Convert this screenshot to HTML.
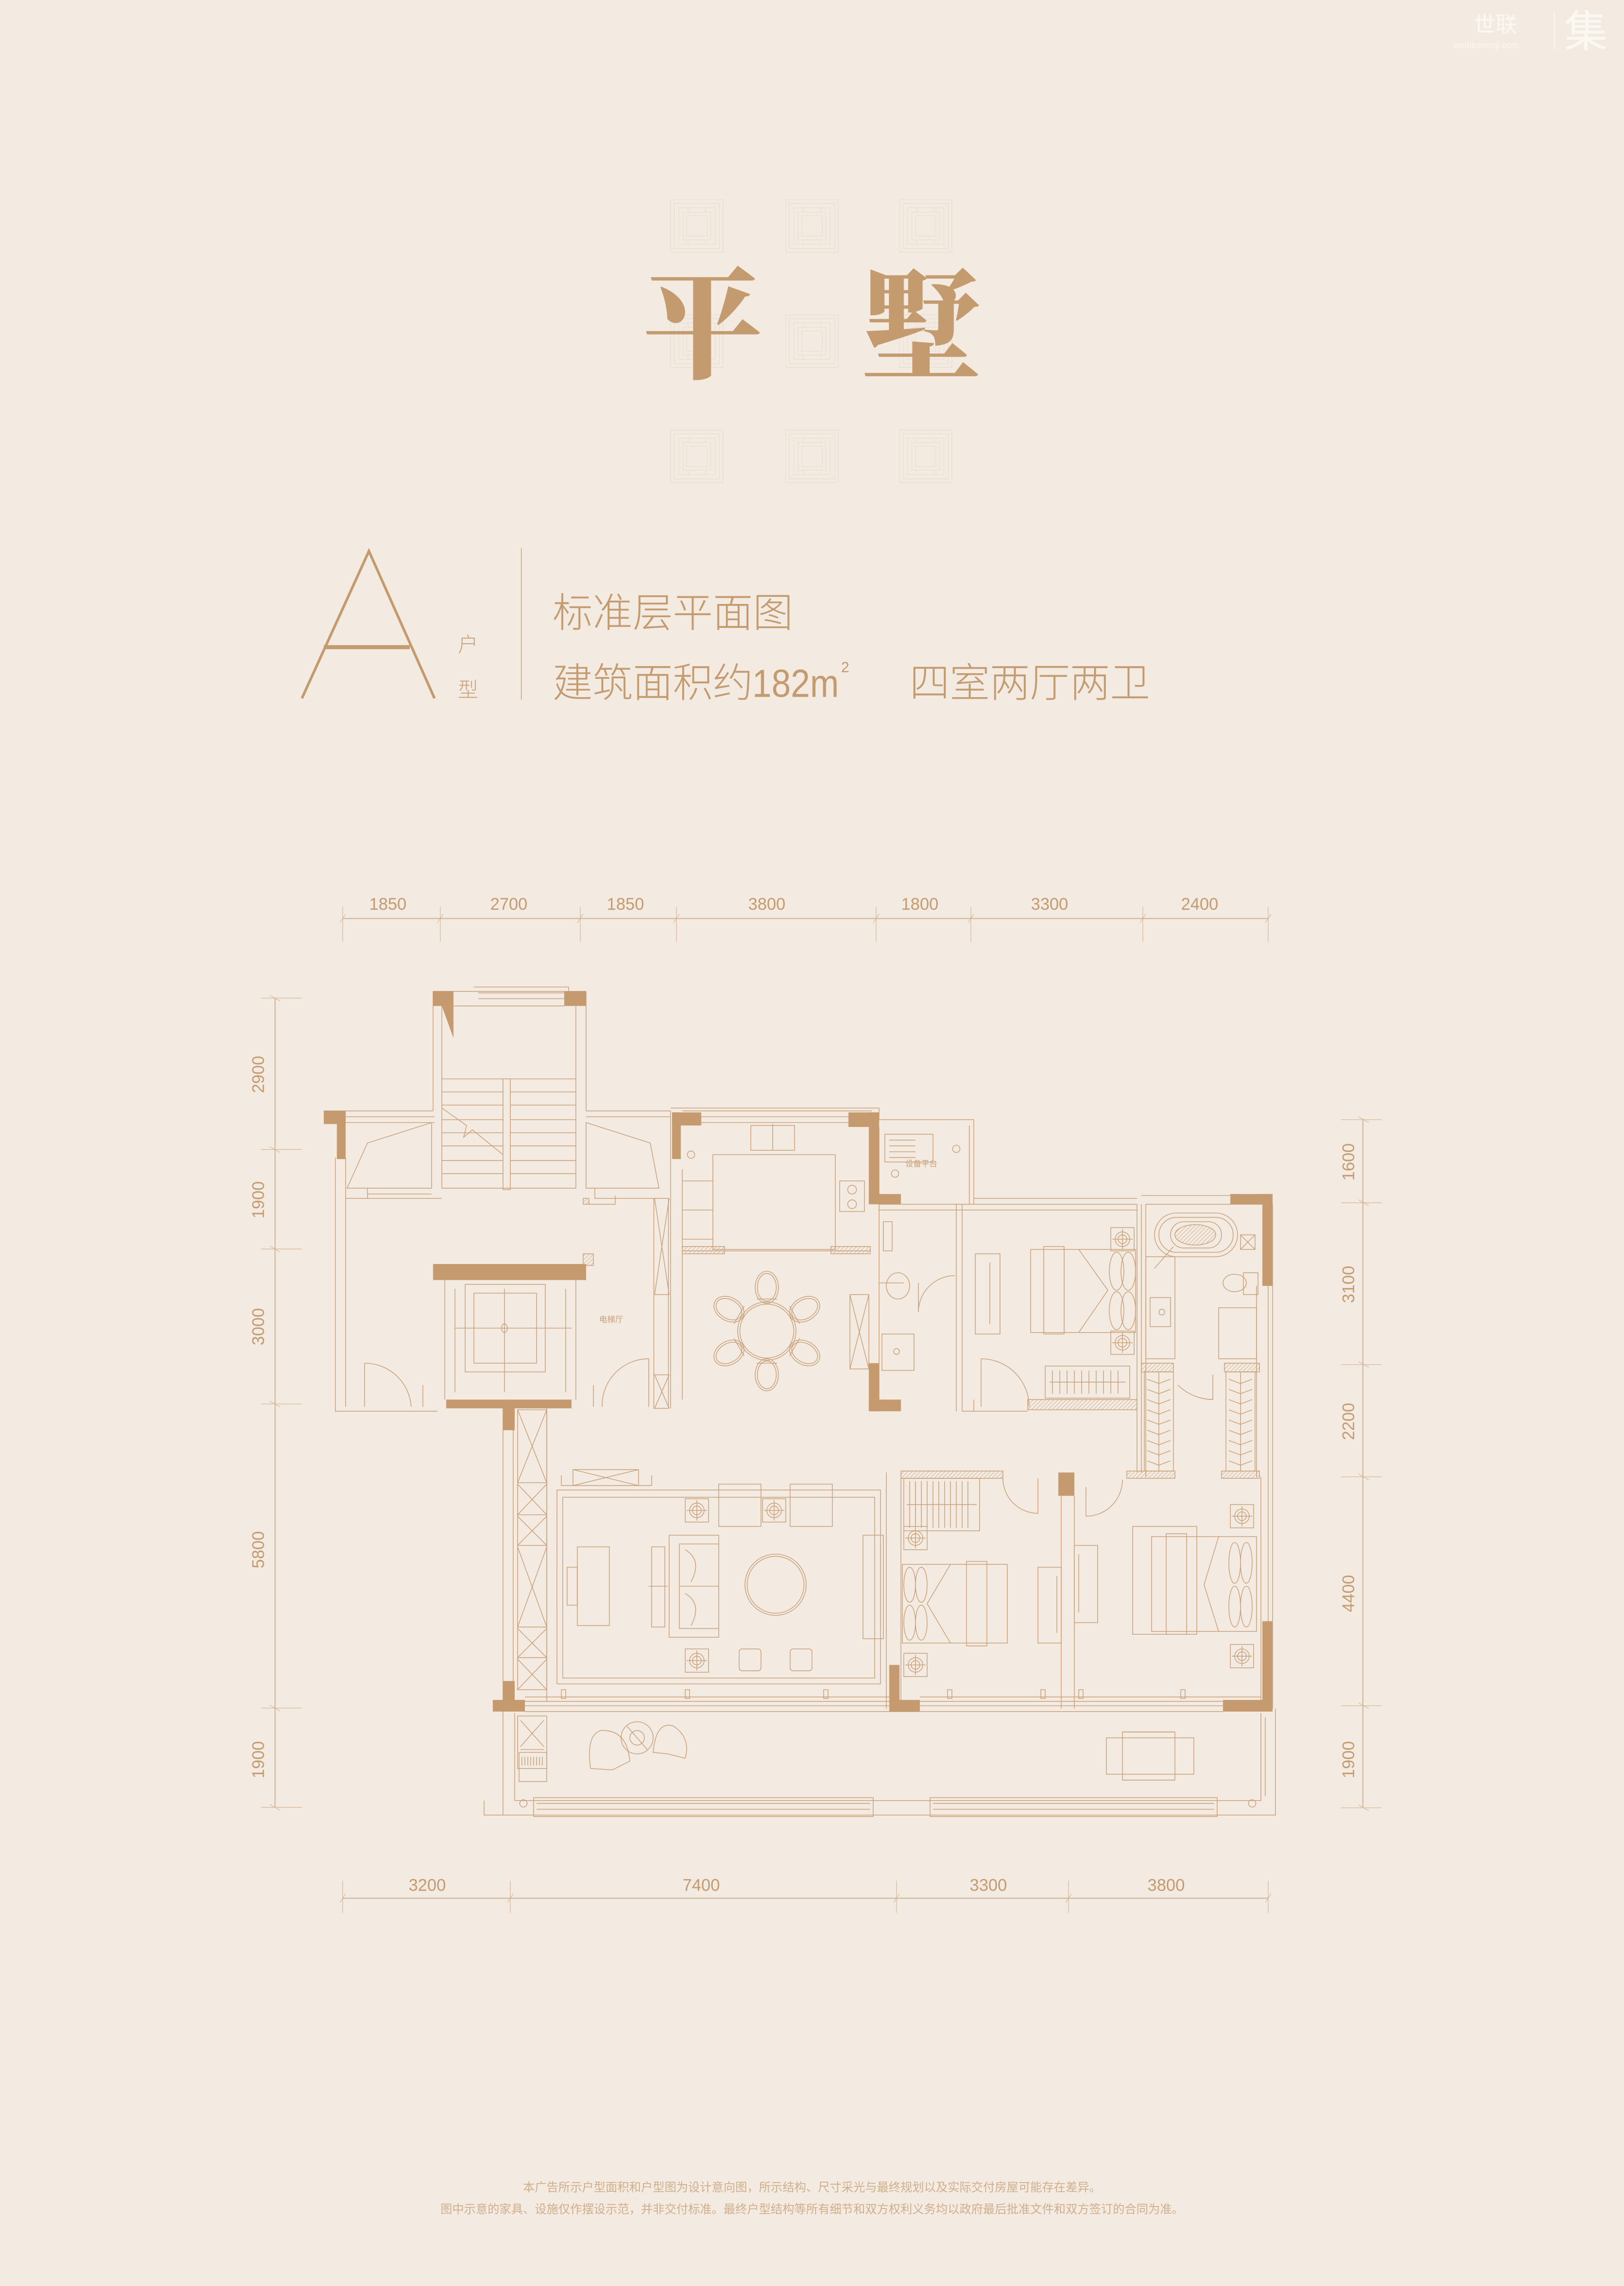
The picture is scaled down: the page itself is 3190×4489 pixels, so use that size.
<!DOCTYPE html>
<html><head><meta charset="utf-8"><style>
html,body{margin:0;padding:0;background:#f3ebe1;}
svg{display:block;}
</style></head><body>
<svg width="3190" height="4489" viewBox="0 0 1114 1568" xmlns="http://www.w3.org/2000/svg">
<defs>
<g id="pat" fill="none" stroke="#ebdfd2" stroke-width="0.5">
<rect x="0" y="0" width="36" height="36"/><rect x="2.5" y="2.5" width="31" height="31"/>
<rect x="5.5" y="5.5" width="25" height="25"/><rect x="8.5" y="8.5" width="19" height="19"/>
<rect x="11" y="11" width="14" height="14"/><path d="M12 5.5v3M24 5.5v3M12 27.5v3M24 27.5v3"/>
</g>
<pattern id="hatch" width="2" height="2" patternUnits="userSpaceOnUse" patternTransform="rotate(45)"><line x1="0" y1="0" x2="0" y2="2" stroke="#c9a07a" stroke-width="0.5"/></pattern>
<g id="lamp" fill="none" stroke="#c9a07a" stroke-width="0.5"><rect x="-8" y="-8" width="16" height="16"/><circle r="5"/><circle r="3"/><path d="M-7 0H7M0 -7V7"/></g>
<g id="chair" fill="none" stroke="#c9a07a" stroke-width="0.5"><ellipse cx="0" cy="-30" rx="8" ry="11"/><ellipse cx="0" cy="-30" rx="6.5" ry="9.5"/><path d="M-7 -22h14"/></g>
</defs>
<rect width="1114" height="1568" fill="#f3ebe1"/>

<g fill="#fbf8f4" font-family="Liberation Sans, Noto Sans CJK SC, sans-serif">
<text x="1011" y="22" font-size="15">世联</text>
<text x="997" y="33" font-size="6">worldunionji.com</text>
<rect x="1066" y="8" width="0.6" height="26"/>
<text x="1073" y="32" font-size="30">集</text>
</g>

<use href="#pat" x="460" y="137"/><use href="#pat" x="539" y="137"/><use href="#pat" x="617" y="137"/>
<use href="#pat" x="460" y="216"/><use href="#pat" x="539" y="216"/><use href="#pat" x="617" y="216"/>
<use href="#pat" x="460" y="295"/><use href="#pat" x="539" y="295"/><use href="#pat" x="617" y="295"/>
<g fill="#c49a6f" font-family="Noto Serif CJK SC, serif" font-weight="900" font-size="82">
<text x="441" y="253">平</text><text x="591" y="253">墅</text>
</g>

<g stroke="#c49a6f" fill="none" stroke-width="1.8"><path d="M207 479 L253 378 L298 479"/></g>
<rect x="222" y="442.5" width="59" height="2.8" fill="#c49a6f"/>
<g fill="#c9a27b" font-family="Liberation Sans, Noto Sans CJK SC, sans-serif" font-weight="300">
<text x="314" y="447" font-size="14">户</text><text x="314" y="478" font-size="14">型</text>
</g>
<rect x="357.3" y="376" width="0.6" height="104" fill="#cfb090"/>
<g fill="#c49a6f" font-family="Liberation Sans, Noto Sans CJK SC, sans-serif" font-weight="300" font-size="27.5">
<text x="379" y="430">标准层平面图</text>
<text x="379" y="478">建筑面积约</text>
<text x="516" y="478" font-size="27" transform="translate(516 0) scale(0.88 1) translate(-516 0)">182m</text>
<text x="577" y="461" font-size="10">2</text>
<text x="624" y="478">四室两厅两卫</text>
</g>

<g stroke="#cdb59c" stroke-width="0.7" fill="none">
<path d="M235 630H870"/><path d="M235 1302H870"/><path d="M188.6 684.6V1239.7"/><path d="M935 768V1240"/>
</g>
<g stroke="#d6b594" stroke-width="0.4" fill="none">
<path d="M235 622V646M302 622V646M398 622V646M464 622V646M601 622V646M666 622V646M784 622V646M870 622V646"/>
<path d="M233 633L237 627M300 633L304 627M396 633L400 627M462 633L466 627M599 633L603 627M664 633L668 627M782 633L786 627M868 633L872 627"/>
<path d="M235 1290V1312M350 1290V1312M615 1290V1312M733 1290V1312M870 1290V1312"/>
<path d="M233 1305L237 1299M348 1305L352 1299M613 1305L617 1299M731 1305L735 1299M868 1305L872 1299"/>
<path d="M179 684.6H207M179 788.5H207M179 856.7H207M179 963H207M179 1171.6H207M179 1239.7H207"/>
<path d="M185 682.6L192 686.6M185 786.5L192 790.5M185 854.7L192 858.7M185 961L192 965M185 1169.6L192 1173.6M185 1237.7L192 1241.7"/>
<path d="M920 768H948M920 825H948M920 936H948M920 1013H948M920 1170H948M920 1240H948"/>
<path d="M932 766L939 770M932 823L939 827M932 934L939 938M932 1011L939 1015M932 1168L939 1172M932 1238L939 1242"/>
</g>
<g fill="#c49a6f" font-family="Liberation Sans Narrow, Liberation Sans, sans-serif" font-size="11.5" text-anchor="middle">
<text x="266" y="624">1850</text><text x="349" y="624">2700</text><text x="429" y="624">1850</text><text x="526" y="624">3800</text><text x="631" y="624">1800</text><text x="720" y="624">3300</text><text x="823" y="624">2400</text>
<text x="293" y="1297">3200</text><text x="481" y="1297">7400</text><text x="678" y="1297">3300</text><text x="800" y="1297">3800</text>
<text transform="translate(181 737) rotate(-90)">2900</text>
<text transform="translate(181 823) rotate(-90)">1900</text>
<text transform="translate(181 910) rotate(-90)">3000</text>
<text transform="translate(181 1063) rotate(-90)">5800</text>
<text transform="translate(181 1207) rotate(-90)">1900</text>
<text transform="translate(929 797) rotate(-90)">1600</text>
<text transform="translate(929 881) rotate(-90)">3100</text>
<text transform="translate(929 975) rotate(-90)">2200</text>
<text transform="translate(929 1093) rotate(-90)">4400</text>
<text transform="translate(929 1207) rotate(-90)">1900</text>
</g>

<g fill="none" stroke="#c9a07a" stroke-width="0.5">
<path d="M297 680V762M303 690V815M395 690V815M402 680V762M297 680H402M311 690H387"/>
<path d="M325 677H390V690M328 681H388M328 685H388"/>
<path d="M303 740H345M350 740H395M303 749H345M350 749H395M303 758H345M350 758H395M303 768H345M350 768H395M303 777H345M350 777H395M303 786H345M350 786H395M303 796H345M350 796H395M303 805H345M350 805H395M303 815H395"/>
<rect x="345" y="740" width="5" height="76"/>
<path d="M303 760L320 772L318 780L324 775L345 792"/>
<path d="M222 762H297M237 766H298M237 770H298M237 794V965M230 794V968H300"/>
<path d="M252 784L296 770V815H238Z"/>
<path d="M252 815V822H296M252 819H296M237 822H303"/>
<path d="M402 770L446 784L452 815H402Z"/>
<path d="M402 762H460M402 766H460M408 815V822H452M402 826H422V820"/>
<rect x="400" y="822" width="4" height="4" fill="url(#hatch)"/>
<rect x="448.5" y="822" width="10" height="144"/>
<path d="M449 822L459 888M459 822L449 888M449 888H459M449 943H459M449 943L459 966M459 943L449 966"/>
<path d="M460 762V966M468 802V960"/>
<path d="M305 878V960M395 878V960M312 884V955M388 884V955"/>
<rect x="319" y="881" width="55" height="60"/>
<rect x="325" y="887" width="43" height="48"/>
<path d="M312 911H392M346 884V955"/>
<ellipse cx="346" cy="911" rx="2" ry="3"/>
<rect x="400" y="860" width="7" height="8" fill="url(#hatch)"/>
<path d="M250 935A32 32 0 0 1 282 965M250 935V965M290 965V950"/>
<path d="M445 932A32 32 0 0 0 413 965M445 932V965M407 965V950"/>
<path d="M468 762H598M481 766H583M481 770H583M603 773V858M468 858H597"/>
<rect x="515" y="772" width="30" height="17"/><path d="M530 772V789M530 771V776"/>
<rect x="489" y="792" width="84" height="65"/>
<rect x="576" y="810" width="17" height="21"/><circle cx="584.5" cy="816" r="3"/><circle cx="584.5" cy="826" r="3"/>
<path d="M468 850H489M468 830H489M468 810H489"/>
<rect x="468" y="855" width="29" height="5" fill="url(#hatch)"/>
<rect x="570" y="855" width="27" height="5" fill="url(#hatch)"/>
<circle cx="474" cy="792" r="2.5"/>
<path d="M600 768H668V826M665 772V826M603 768V760H460"/>
<rect x="607" y="778" width="33" height="19"/><path d="M610 782H628M610 786H628M610 790H628M610 794H628"/>
<circle cx="656" cy="788" r="2.5"/><circle cx="614" cy="805" r="2.5"/>
<path d="M603 826H660M603 830H660M656 826V968M660 826V968M603 826V968M603 880H620"/>
<ellipse cx="616" cy="882" rx="8" ry="9"/>
<path d="M630 900A25 25 0 0 1 655 875M630 900V880"/>
<rect x="605" y="915" width="22" height="25"/><circle cx="615" cy="927" r="2"/>
<rect x="583" y="888" width="13" height="51"/><path d="M583 888L596 939M596 888L583 939"/>
<rect x="606" y="838" width="6" height="20"/>
<path d="M660 826H780M660 830H780M668 822H780M780 826V1010M783 826V1010M660 968H705"/>
<rect x="707" y="857" width="72" height="57"/><rect x="716" y="855" width="14" height="60"/>
<ellipse cx="766" cy="872" rx="5" ry="13"/><ellipse cx="774" cy="872" rx="5" ry="13"/><ellipse cx="766" cy="899" rx="5" ry="13"/><ellipse cx="774" cy="899" rx="5" ry="13"/>
<path d="M740 857L760 885L740 914"/>
<use href="#lamp" x="770" y="850"/><use href="#lamp" x="770" y="921"/>
<rect x="669" y="860" width="17" height="55"/><path d="M679 866V908"/>
<rect x="717" y="937" width="58" height="22"/>
<path d="M722 940v16M727 940v16M732 940v16M737 940v16M742 940v16M747 940v16M752 940v16M757 940v16M762 940v16M767 940v16M720 948H772"/>
<rect x="705" y="960" width="75" height="7" fill="url(#hatch)"/>
<path d="M673 932A33 33 0 0 1 706 965M673 932V965M668 968V960"/>
<path d="M783 820H845M786 826H866M786 826V1013M862 882V1013"/>
<rect x="792" y="832" width="57" height="30" rx="15"/><rect x="795" y="835" width="51" height="24" rx="12"/>
<rect x="803" y="838" width="35" height="18" rx="9"/>
<ellipse cx="820" cy="847" rx="14" ry="7" fill="url(#hatch)"/>
<path d="M792 870L805 855"/>
<ellipse cx="847" cy="880" rx="8" ry="6"/><rect x="853" y="873" width="10" height="15"/>
<rect x="786" y="862" width="20" height="70"/><rect x="789" y="890" width="14" height="20"/><circle cx="797" cy="900" r="2"/>
<rect x="836" y="897" width="26" height="35"/>
<rect x="851" y="847" width="10" height="10"/><path d="M851 847L861 857M861 847L851 857"/>
<path d="M808 950A35 35 0 0 0 832 960V943"/>
<rect x="783" y="935" width="22" height="6" fill="url(#hatch)"/><rect x="840" y="935" width="24" height="6" fill="url(#hatch)"/>
<rect x="785" y="941" width="20" height="68"/><path d="M795 941V1009"/>
<path d="M787 946L795 949L803 946M787 953L795 956L803 953M787 960L795 963L803 960M787 967L795 970L803 967M787 974L795 977L803 974M787 981L795 984L803 981M787 988L795 991L803 988M787 995L795 998L803 995M787 1002L795 1005L803 1002"/>
<rect x="841" y="941" width="20" height="68"/><path d="M851 941V1009"/>
<path d="M843 946L851 949L859 946M843 953L851 956L859 953M843 960L851 963L859 960M843 967L851 970L859 967M843 974L851 977L859 974M843 981L851 984L859 981M843 988L851 991L859 988M843 995L851 998L859 995M843 1002L851 1005L859 1002"/>
<path d="M870 826V1172M873 826V1172"/>
<circle cx="526" cy="913" r="20"/><circle cx="526" cy="913" r="18.5"/>
<g transform="translate(526 913)"><use href="#chair"/><use href="#chair" transform="rotate(60)"/><use href="#chair" transform="rotate(120)"/><use href="#chair" transform="rotate(180)"/><use href="#chair" transform="rotate(240)"/><use href="#chair" transform="rotate(300)"/></g>
<path d="M345 966V1172M352 966V1167M375 966V1167"/>
<rect x="355" y="967" width="20" height="192"/>
<path d="M355 967L375 1017M375 967L355 1017M355 1017H375M355 1018L375 1039M375 1018L355 1039M355 1039H375M355 1040L375 1060M375 1040L355 1060M355 1060H375M355 1061L375 1116M375 1061L355 1116M355 1116H375M355 1117L375 1137M375 1117L355 1137M355 1137H375M355 1138L375 1159M375 1138L355 1159"/>
<rect x="382" y="1022" width="222" height="133"/><rect x="386" y="1027" width="214" height="124"/>
<rect x="396" y="1061" width="22" height="54"/><rect x="389" y="1075" width="7" height="26"/>
<rect x="459" y="1053" width="34" height="70"/><rect x="466" y="1059" width="27" height="58"/><path d="M466 1088H493"/>
<rect x="447" y="1061" width="9" height="55"/><path d="M445 1088H458"/>
<path d="M470 1063Q482 1070 474 1085M470 1093Q482 1100 474 1115"/>
<circle cx="532" cy="1087" r="21"/><circle cx="532" cy="1087" r="19.5"/>
<rect x="493" y="1018" width="29" height="29"/><rect x="542" y="1018" width="29" height="29"/>
<use href="#lamp" x="478" y="1036"/><use href="#lamp" x="531" y="1036"/><use href="#lamp" x="478" y="1139"/>
<rect x="507" y="1131" width="15" height="15" rx="2"/><rect x="542" y="1131" width="15" height="15" rx="2"/>
<rect x="592" y="1053" width="14" height="71"/><path d="M604 1060V1117"/>
<rect x="393" y="1008" width="45" height="11"/><path d="M393 1008L438 1019M438 1008L393 1019M385 1019H447M385 1012V1019M447 1012V1019"/>
<path d="M608 1010V1172M618 1014V1167"/>
<rect x="618" y="1009" width="70" height="5" fill="url(#hatch)"/>
<rect x="620" y="1014" width="52" height="36"/>
<path d="M624 1016v32M628 1016v32M632 1016v32M636 1016v32M640 1016v32M644 1016v32M648 1016v32M652 1016v32M656 1016v32M660 1016v32M664 1016v32M622 1032H670"/>
<rect x="619" y="1073" width="72" height="54"/><rect x="663" y="1071" width="14" height="58"/>
<ellipse cx="624" cy="1087" rx="4" ry="12"/><ellipse cx="632" cy="1087" rx="4" ry="12"/><ellipse cx="624" cy="1113" rx="4" ry="12"/><ellipse cx="632" cy="1113" rx="4" ry="12"/>
<path d="M652 1073L636 1100L652 1127"/>
<use href="#lamp" x="628" y="1055"/><use href="#lamp" x="628" y="1142"/>
<rect x="712" y="1075" width="16" height="52"/><path d="M725 1081V1120"/>
<path d="M688 1014A24 24 0 0 0 712 1038V1014"/>
<path d="M728 1015V1172M737 1026V1172"/>
<path d="M745 1040A25 25 0 0 0 770 1015M745 1040V1020"/>
<rect x="773" y="1009" width="33" height="5" fill="url(#hatch)"/><rect x="838" y="1009" width="26" height="5" fill="url(#hatch)"/>
<rect x="777" y="1047" width="44" height="74"/>
<rect x="790" y="1054" width="72" height="65"/><rect x="800" y="1052" width="14" height="69"/>
<ellipse cx="847" cy="1072" rx="4" ry="14"/><ellipse cx="855" cy="1072" rx="4" ry="14"/><ellipse cx="847" cy="1102" rx="4" ry="14"/><ellipse cx="855" cy="1102" rx="4" ry="14"/>
<path d="M836 1054L826 1087L836 1119"/>
<use href="#lamp" x="852" y="1040"/><use href="#lamp" x="852" y="1136"/>
<rect x="737" y="1060" width="16" height="53"/><path d="M740 1066V1106"/>
<path d="M865 1013V1172"/>
<path d="M360 1167H839M360 1170H839M360 1174H839M360 1164H610M631 1164H865"/>
<rect x="385" y="1159" width="3" height="6"/><rect x="470" y="1159" width="3" height="6"/><rect x="565" y="1159" width="3" height="6"/><rect x="650" y="1159" width="3" height="6"/><rect x="714" y="1159" width="3" height="6"/><rect x="740" y="1159" width="3" height="6"/><rect x="810" y="1159" width="3" height="6"/>
<path d="M353 1175V1235H865V1175M345 1172V1245H875V1172M332 1235V1245H345"/>
<path d="M366 1233H599V1246H366ZM368 1237H597M368 1241H597"/>
<path d="M638 1233H835V1246H638ZM640 1237H833M640 1241H833"/>
<path d="M865 1175V1235M868 1178V1232"/>
<rect x="355" y="1177" width="20" height="36"/><path d="M357 1180L373 1198M373 1180L357 1198M357 1200H373"/>
<rect x="356" y="1202" width="19" height="20"/><path d="M358 1205v6M360 1205v6M362 1205v6M364 1205v6M366 1205v6M368 1205v6M370 1205v6M372 1205v6"/>
<path d="M405 1213Q402 1190 412 1187Q430 1186 432 1208L420 1214Z"/>
<path d="M448 1202Q450 1180 462 1184Q474 1192 470 1206L458 1203Z"/>
<circle cx="437" cy="1192" r="11"/><circle cx="437" cy="1192" r="5"/><path d="M430 1184L444 1200"/>
<rect x="759" y="1192" width="60" height="25"/><rect x="770" y="1188" width="36" height="33"/><path d="M770 1188h36M770 1221h36"/>
<circle cx="359" cy="1237" r="2.5"/><circle cx="859" cy="1237" r="2.5"/>
</g>

<g fill="#c49a6e">
<rect x="297" y="680" width="14" height="10"/><path d="M303 690H311V712Z"/>
<rect x="387" y="680" width="15" height="10"/>
<rect x="222" y="762" width="15" height="9"/><rect x="231" y="762" width="6" height="33"/>
<rect x="461" y="763" width="20" height="9"/><rect x="461" y="763" width="6" height="32"/>
<rect x="582" y="763" width="21" height="10"/><rect x="596" y="763" width="7" height="63"/><rect x="596" y="819" width="22" height="7"/>
<rect x="297" y="867" width="105" height="11"/>
<rect x="306" y="960" width="86" height="6"/>
<rect x="345" y="966" width="8" height="15"/>
<rect x="596" y="935" width="7" height="33"/><rect x="596" y="960" width="22" height="8"/>
<rect x="844" y="819" width="29" height="7"/><rect x="866" y="819" width="7" height="63"/>
<rect x="726" y="1010" width="11" height="16"/>
<rect x="345" y="1153" width="8" height="19"/><rect x="338" y="1166" width="22" height="8"/>
<rect x="610" y="1142" width="7" height="32"/><rect x="611" y="1166" width="20" height="8"/>
<rect x="866" y="1112" width="7" height="60"/><rect x="839" y="1166" width="34" height="8"/>
</g>
<g fill="#c9a07a" font-family="Liberation Sans, Noto Sans CJK SC, sans-serif">
<text x="411" y="907" font-size="5.5">电梯厅</text>
<text x="621" y="800" font-size="5.5">设备平台</text>
</g>

<g fill="#cfae8c" font-family="Liberation Sans, Noto Sans CJK SC, sans-serif" font-size="8.1" text-anchor="middle">
<text x="557" y="1503">本广告所示户型面积和户型图为设计意向图，所示结构、尺寸采光与最终规划以及实际交付房屋可能存在差异。</text>
<text x="557" y="1518">图中示意的家具、设施仅作摆设示范，并非交付标准。最终户型结构等所有细节和双方权利义务均以政府最后批准文件和双方签订的合同为准。</text>
</g>
</svg>
</body></html>
